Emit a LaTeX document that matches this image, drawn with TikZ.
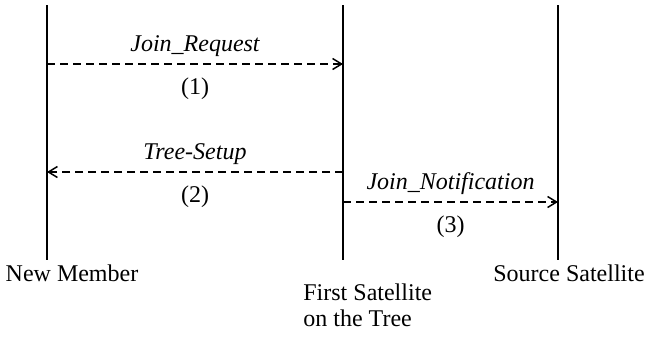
\documentclass[tikz,border=0pt]{standalone}
\usepackage{fontspec}
\setmainfont{Liberation Serif}
\usetikzlibrary{arrows.meta}

\begin{document}
\begin{tikzpicture}[x=0.5pt,y=-0.5pt,
			every node/.style={font=\fontsize{12}{13}\selectfont},
			lifeline/.style={line width=1pt},
			msg/.style={line width=0.75pt,dash pattern=on 4pt off 2.5pt,
				-{Straight Barb[length=4.5pt,width=5.5pt]}},
			msg label/.style={font=\fontsize{12}{13}\selectfont\itshape}]
			\useasboundingbox (0,0) rectangle (649,339);
			
			% lifelines
			\coordinate (NMtop) at (47,5);
			\coordinate (NMbot) at (47,260);
			\coordinate (FStop) at (343,5);
			\coordinate (FSbot) at (343,260);
			\coordinate (SStop) at (558,5);
			\coordinate (SSbot) at (558,260);
			
			\draw[lifeline] (NMtop) -- (NMbot);
			\draw[lifeline] (FStop) -- (FSbot);
			\draw[lifeline] (SStop) -- (SSbot);
			
			\node (NM) at (72,273) {New Member};
			\node (SS) at (569,273) {Source Satellite};
			\node[align=left,anchor=north west,inner sep=0pt] (FS) at (303,283) {First Satellite\\on the Tree};
			
			% message ends
			\coordinate (NM1) at (47,64);
			\coordinate (FS1) at (343,64);
			\coordinate (NM2) at (47,172);
			\coordinate (FS2) at (343,172);
			\coordinate (FS3) at (343,202);
			\coordinate (SS3) at (558,202);
			
			\path
			(NM1) edge [msg] node [above,msg label] {Join\_Request} node [below=3pt] {(1)} (FS1)
			(FS2) edge [msg] node [above,msg label] {Tree-Setup} node [below=3pt] {(2)} (NM2)
			(FS3) edge [msg] node [above,msg label] {Join\_Notification} node [below=3pt] {(3)} (SS3);
			\end{tikzpicture}
\end{document}
